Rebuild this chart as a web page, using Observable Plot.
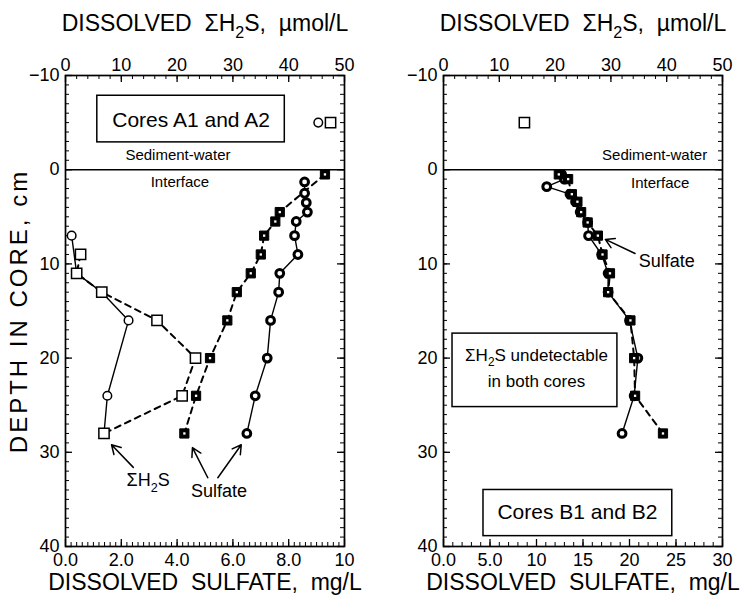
<!DOCTYPE html>
<html><head><meta charset="utf-8">
<script src="https://cdn.jsdelivr.net/npm/d3@7"></script>
<script src="https://cdn.jsdelivr.net/npm/@observablehq/plot@0.6"></script>
<style>
body{margin:0;background:#fff;}
#wrap{display:flex;width:743px;height:601px;overflow:hidden;}
</style></head><body><div id="wrap"></div>
<script>
// ---------- Cores A1 and A2 (left panel) ----------
// dissolved sulfate, mg/L
const depthA1Sulfate = [1.3, 2.5, 3.5, 4.5, 5.5, 7, 9, 11, 13, 16, 20, 24, 28];
const sulfateA1 = [8.57, 8.57, 8.63, 8.67, 8.27, 8.21, 8.33, 7.68, 7.64, 7.35, 7.23, 6.8, 6.5];
const depthA2Sulfate = [0.5, 4.5, 5.5, 7, 9, 11, 13, 16, 20, 24, 28];
const sulfateA2 = [9.3, 7.68, 7.52, 7.12, 7.0, 6.64, 6.14, 5.8, 5.18, 4.68, 4.26];
// dissolved sum H2S, umol/L
const depthA1H2S = [7, 11, 13, 16, 24, 28];
const h2sA1 = [1.1, 2.0, 6.5, 11.3, 7.5, 6.9];
const depthA2H2S = [9, 11, 13, 16, 20, 24, 28];
const h2sA2 = [2.7, 2.0, 6.5, 16.4, 23.3, 20.9, 6.9];
// overlying water (depth -5 cm)
const waterDepth = [-5];
const waterH2SA1 = [45.3];
const waterH2SA2 = [47.5];

// ---------- Cores B1 and B2 (right panel) ----------
const depthB1Sulfate = [0.5, 1.0, 1.8, 2.6, 3.4, 4.5, 5.6, 7, 9, 11, 13, 16, 20, 24, 28];
const sulfateB1 = [12.7, 13.0, 11.1, 13.6, 14.2, 14.7, 15.5, 15.6, 17.0, 17.7, 17.7, 20.0, 20.9, 20.5, 19.2];
const depthB2Sulfate = [0.5, 1.0, 2.6, 3.4, 4.5, 5.6, 7, 9, 11, 13, 16, 20, 24, 28];
const sulfateB2 = [12.4, 13.4, 13.8, 14.4, 14.8, 15.5, 16.6, 17.1, 17.9, 17.7, 20.1, 20.5, 20.6, 23.6];
const waterH2SB = [14.5];

// ---------- tick labels ----------
const depthTicks = [-10, 0, 10, 20, 30, 40];
const sulfateTicksA = [0, 2, 4, 6, 8, 10];
const sulfateTicksB = [0, 5, 10, 15, 20, 25, 30];
const h2sTicks = [0, 10, 20, 30, 40, 50];

const H = 601, MT = 75, MB = 55;
const FONT = "'Liberation Sans', Arial, Helvetica, sans-serif";
const tbl = (xs, ys, f = 1) => xs.map((v, i) => ({x: v * f, y: ys[i]}));
const range = (a, b, s) => d3.range(a, b + s / 2, s);
function solidStyle() { return {x: "x", y: "y", stroke: "black", strokeWidth: 1.4}; }
function dashStyle() { return {x: "x", y: "y", stroke: "black", strokeWidth: 2, strokeDasharray: "6,5"}; }

function panel(cfg) {
  const pw = cfg.width - cfg.ml - cfg.mr, ph = H - MT - MB;
  const f = cfg.xmax / 50; // umol/L -> plotting units
  const minorY = range(-10, 40, 1), majorY = depthTicks;
  const minorBottom = range(0, cfg.xmax, cfg.minorStep), majorBottom = cfg.sulfateTicks;
  const minorTop = range(0, 50, 2).map(d => d * f), majorTop = h2sTicks.map(d => d * f);
  const marks = [
    Plot.rect(cfg.boxes, {x1: "x1", x2: "x2", y1: "y1", y2: "y2", fill: "white", stroke: "black", strokeWidth: 1.5}),
    Plot.ruleY([0], {strokeWidth: 1.4}),
    // inward ticks
    Plot.tickX(minorBottom, {insetTop: ph - 4, strokeWidth: 1}),
    Plot.tickX(majorBottom, {insetTop: ph - 7, strokeWidth: 1.3}),
    Plot.tickX(minorTop, {insetBottom: ph - 4, strokeWidth: 1}),
    Plot.tickX(majorTop, {insetBottom: ph - 7, strokeWidth: 1.3}),
    Plot.tickY(minorY, {insetRight: pw - 4, strokeWidth: 1}),
    Plot.tickY(majorY, {insetRight: pw - 7, strokeWidth: 1.3}),
    Plot.tickY(minorY, {insetLeft: pw - 4, strokeWidth: 1}),
    Plot.tickY(majorY, {insetLeft: pw - 7, strokeWidth: 1.3}),
    Plot.frame({strokeWidth: 1.7}),
    // axes labels
    Plot.axisX(majorBottom, {anchor: "bottom", tickSize: 0, tickPadding: 7, label: null, tickFormat: cfg.fmt, fontSize: 18}),
    Plot.axisX(majorTop, {anchor: "top", tickSize: 0, tickPadding: 5, label: null, tickFormat: d => String(Math.round(d / f)), fontSize: 18}),
    Plot.axisY(majorY, {anchor: "left", tickSize: 0, tickPadding: 6, label: null, fontSize: 18}),
    Plot.text(["DISSOLVED  \u03a3H2S,  \u00b5mol/L"], {frameAnchor: "top", lineAnchor: "middle", dy: -52, fontSize: 23}),
    Plot.text(["DISSOLVED  SULFATE,  mg/L"], {frameAnchor: "bottom", lineAnchor: "middle", dy: 36, fontSize: 23}),
    ...cfg.extra,
    Plot.text(cfg.labels, {x: "x", y: "y", text: "text", fontSize: "size", fontWeight: "weight"}),
    Plot.arrow(cfg.arrows, {x1: "x1", y1: "y1", x2: "x2", y2: "y2", bend: false, headLength: 10, strokeWidth: 1.5})
  ];
  return Plot.plot({
    width: cfg.width, height: H,
    marginLeft: cfg.ml, marginRight: cfg.mr, marginTop: MT, marginBottom: MB,
    style: {fontFamily: FONT, fontSize: "18px", background: "white", color: "black", overflow: "visible"},
    x: {domain: [0, cfg.xmax]},
    y: {domain: [-10, 40], reverse: true},
    marks
  });
}

const dotsSulfateCircle = d => Plot.dot(d, {x: "x", y: "y", r: 3.9, fill: "white", stroke: "black", strokeWidth: 3});
const dotsSulfateSquare = d => [
  Plot.dot(d, {x: "x", y: "y", r: 5.2, symbol: "square", fill: "black", stroke: "black", strokeWidth: 1}),
  Plot.dot(d, {x: "x", y: "y", r: 1.3, symbol: "square", fill: "white"})
];
const dotsH2SCircle = d => Plot.dot(d, {x: "x", y: "y", r: 4.3, fill: "white", stroke: "black", strokeWidth: 1.5});
const dotsH2SSquare = d => Plot.dot(d, {x: "x", y: "y", r: 5.8, symbol: "square", fill: "white", stroke: "black", strokeWidth: 1.5});

const fA = 10 / 50, fB = 30 / 50;
const A1s = tbl(sulfateA1, depthA1Sulfate), A2s = tbl(sulfateA2, depthA2Sulfate);
const A1h = tbl(h2sA1, depthA1H2S, fA), A2h = tbl(h2sA2, depthA2H2S, fA);
const B1s = tbl(sulfateB1, depthB1Sulfate), B2s = tbl(sulfateB2, depthB2Sulfate);

const left = panel({
  width: 380, ml: 65, mr: 36, xmax: 10, minorStep: 0.2, sulfateTicks: sulfateTicksA,
  fmt: d => d === 10 ? "10" : d.toFixed(1),
  boxes: [{x1: 1.14, x2: 7.86, y1: -7.85, y2: -2.9}],
  labels: [
    {x: 4.5, y: -5.3, text: "Cores A1 and A2", size: 21, weight: "normal"},
    {x: 4.03, y: -1.5, text: "Sediment-water", size: 15, weight: "bold"},
    {x: 4.1, y: 1.3, text: "Interface", size: 15, weight: "bold"},
    {x: 2.96, y: 33.0, text: "\u03a3H2S", size: 18, weight: "normal"},
    {x: 5.5, y: 34.1, text: "Sulfate", size: 18, weight: "normal"}
  ],
  arrows: [
    {x1: 2.43, y1: 31.6, x2: 1.65, y2: 29.2},
    {x1: 5.1, y1: 32.7, x2: 4.55, y2: 29.5},
    {x1: 5.46, y1: 32.7, x2: 6.3, y2: 29.2}
  ],
  extra: [
    Plot.text(["DEPTH IN CORE, cm"], {frameAnchor: "left", rotate: -90, dx: -46, textAnchor: "middle", lineAnchor: "middle", fontSize: 24}),
    Plot.line(A1h, solidStyle()),
    Plot.line(A2h, dashStyle()),
    Plot.line(A1s, solidStyle()),
    Plot.line(A2s, dashStyle()),
    dotsH2SCircle(A1h.concat(tbl(waterH2SA1, waterDepth, fA))),
    dotsH2SSquare(A2h.concat(tbl(waterH2SA2, waterDepth, fA))),
    dotsSulfateCircle(A1s),
    ...dotsSulfateSquare(A2s)
  ]
});

const right = panel({
  width: 363, ml: 63, mr: 21, xmax: 30, minorStep: 1, sulfateTicks: sulfateTicksB,
  fmt: d => d < 10 ? d.toFixed(1) : String(d),
  boxes: [{x1: 0.97, x2: 18.7, y1: 17.4, y2: 25.2}, {x1: 4.3, x2: 24.6, y1: 34.0, y2: 38.9}],
  labels: [
    {x: 22.7, y: -1.5, text: "Sediment-water", size: 15, weight: "bold"},
    {x: 23.3, y: 1.4, text: "Interface", size: 15, weight: "bold"},
    {x: 24.0, y: 9.7, text: "Sulfate", size: 18, weight: "normal"},
    {x: 10.0, y: 19.7, text: "\u03a3H2S undetectable", size: 17, weight: "normal"},
    {x: 10.0, y: 22.5, text: "in both cores", size: 17, weight: "normal"},
    {x: 14.4, y: 36.4, text: "Cores B1 and B2", size: 21, weight: "normal"}
  ],
  arrows: [{x1: 20.6, y1: 8.9, x2: 17.4, y2: 7.4}],
  extra: [
    Plot.line(B1s, solidStyle()),
    Plot.line(B2s, dashStyle()),
    dotsH2SSquare(tbl(waterH2SB, waterDepth, fB)),
    dotsSulfateCircle(B1s),
    ...dotsSulfateSquare(B2s)
  ]
});

const wrap = document.getElementById("wrap");
wrap.appendChild(left);
wrap.appendChild(right);

// widen the depth title's letter spacing to its printed length
document.querySelectorAll("svg text").forEach(el => {
  if (el.textContent === "DEPTH IN CORE, cm") el.style.letterSpacing = "3px";
});

// subscript "2" in H2S
const NS = "http://www.w3.org/2000/svg";
document.querySelectorAll("svg text, svg tspan").forEach(el => {
  if (el.children.length) return;
  const t = el.textContent;
  if (!t.includes("H2S")) return;
  const fs = parseFloat(getComputedStyle(el).fontSize) || 17;
  const parts = t.split("H2S");
  el.textContent = "";
  parts.forEach((p, i) => {
    if (i > 0) {
      const a = document.createElementNS(NS, "tspan"); a.textContent = "H"; el.appendChild(a);
      const s = document.createElementNS(NS, "tspan");
      s.setAttribute("dy", (0.32 * fs).toFixed(1)); s.setAttribute("font-size", (0.7 * fs).toFixed(1)); s.textContent = "2"; el.appendChild(s);
      const b = document.createElementNS(NS, "tspan");
      b.setAttribute("dy", (-0.32 * fs).toFixed(1)); b.textContent = "S"; el.appendChild(b);
    }
    if (p) { const n = document.createElementNS(NS, "tspan"); n.textContent = p; el.appendChild(n); }
  });
});
</script></body></html>
